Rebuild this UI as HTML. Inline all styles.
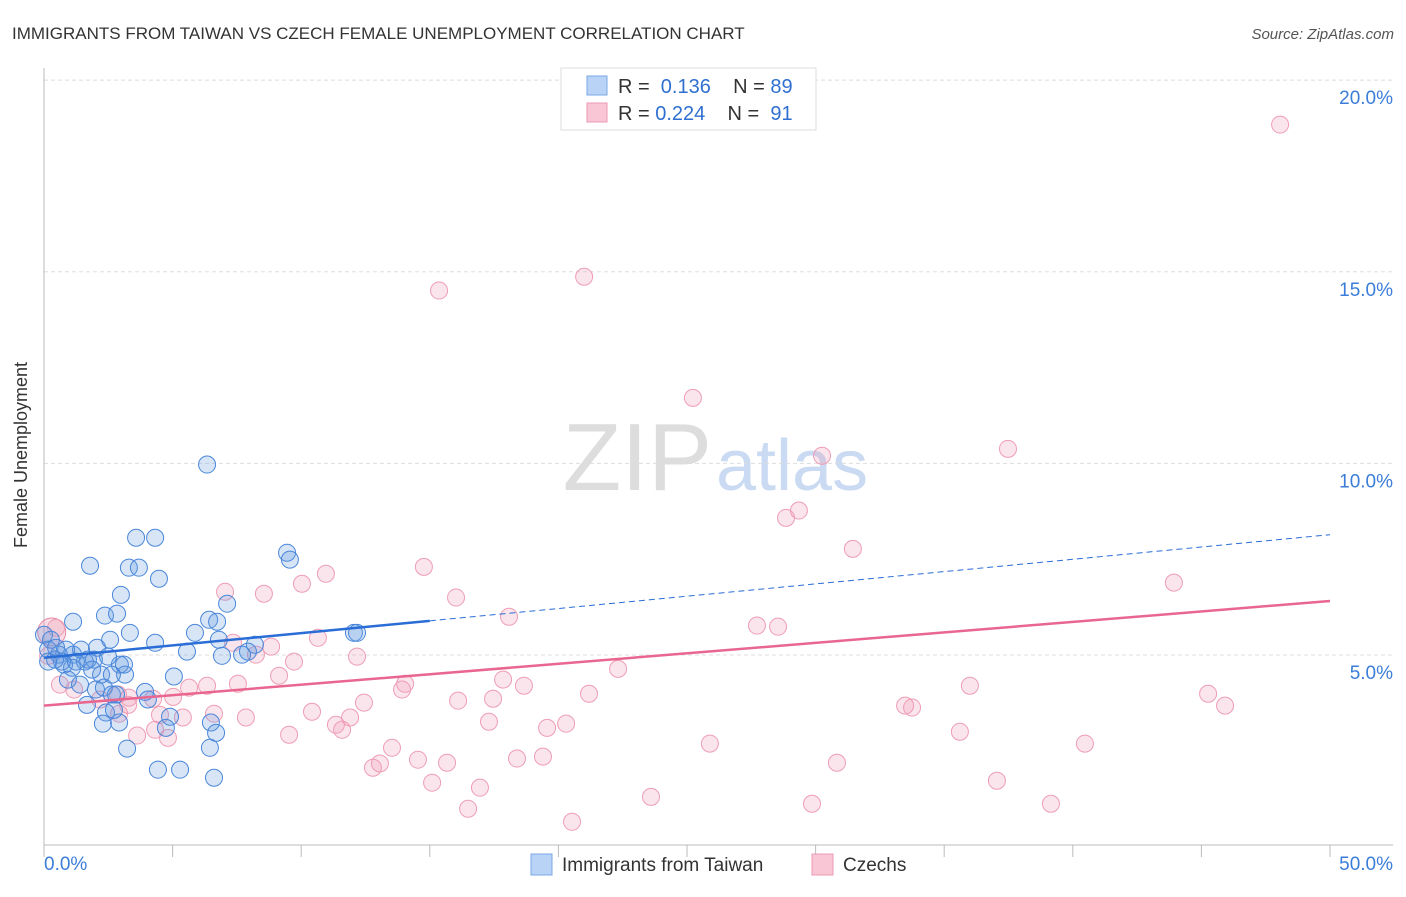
<!DOCTYPE html>
<html><head><meta charset="utf-8"><style>
body{margin:0;background:#fff;font-family:"Liberation Sans",sans-serif}
svg text{font-family:"Liberation Sans",sans-serif}
</style></head><body>
<svg width="1406" height="892" xmlns="http://www.w3.org/2000/svg">
<text x="12" y="39" font-size="17" fill="#333">IMMIGRANTS FROM TAIWAN VS CZECH FEMALE UNEMPLOYMENT CORRELATION CHART</text>
<text x="1394" y="39" font-size="15" fill="#555" font-style="italic" text-anchor="end">Source: ZipAtlas.com</text>
<text x="712" y="490" font-size="96" fill="#ddd" font-family="Liberation Serif" text-anchor="end">ZIP</text>
<text x="716" y="490" font-size="72" fill="#c9daf2">atlas</text>
<g id="grid"></g>
<g id="axes"></g>
<g id="pts"></g>
<g id="trends"></g>
<text x="27" y="455" font-size="18" fill="#333" text-anchor="middle" transform="rotate(-90 27 455)">Female Unemployment</text>
<g>
<rect x="561" y="68" width="255" height="62" fill="#fff" stroke="#ddd"/>
<rect x="587" y="76" width="20" height="19" fill="#b8d3f5" stroke="#7aa7e6"/>
<rect x="587" y="103" width="20" height="19" fill="#f9c6d5" stroke="#ec9ab2"/>
<text x="618" y="93" font-size="20" fill="#333" xml:space="preserve">R =  <tspan fill="#2f6fd0">0.136</tspan>    N = <tspan fill="#2f6fd0">89</tspan></text>
<text x="618" y="120" font-size="20" fill="#333" xml:space="preserve">R = <tspan fill="#2f6fd0">0.224</tspan>    N =  <tspan fill="#2f6fd0">91</tspan></text>
</g>
<g>
<rect x="531" y="854" width="21" height="21" fill="#b8d3f5" stroke="#7aa7e6"/>
<text x="562" y="871" font-size="19" fill="#333">Immigrants from Taiwan</text>
<rect x="812" y="854" width="21" height="21" fill="#f9c6d5" stroke="#ec9ab2"/>
<text x="843" y="871" font-size="19" fill="#333">Czechs</text>
</g>
</svg>
<script>
const blueX=[6.34,3.58,4.32,1.79,3.30,3.69,4.47,9.45,9.56,2.99,2.37,2.84,7.12,6.42,6.73,1.13,5.87,3.34,4.32,2.57,6.80,12.05,12.17,0,0.27,8.20,7.93,7.70,5.56,6.92,0.58,1.13,1.44,2.06,1.71,0.78,1.09,1.94,2.95,2.49,3.15,2.22,2.64,3.11,5.05,0.93,1.40,2.02,2.33,3.93,4.04,1.67,2.64,2.41,4.90,4.74,6.49,6.69,2.29,2.92,3.23,6.45,4.43,5.29,6.61,0.16,0.43,0.70,0.16,0.47,1.59,1.24,0.86,1.87,2.72,2.80];
const blueY=[9.97,8.06,8.06,7.33,7.28,7.28,6.99,7.67,7.49,6.57,6.03,6.08,6.34,5.92,5.87,5.87,5.58,5.58,5.32,5.40,5.40,5.58,5.58,5.53,5.40,5.27,5.09,5.01,5.09,4.98,5.01,5.01,5.14,5.19,4.88,4.75,4.67,4.88,4.75,4.96,4.49,4.49,4.49,4.75,4.44,4.36,4.23,4.10,4.15,4.04,3.84,3.70,3.97,3.50,3.39,3.10,3.24,2.97,3.21,3.24,2.56,2.58,2.01,2.01,1.80,5.14,4.88,4.83,4.83,5.19,4.83,4.83,5.14,4.62,3.57,3.97];
const pinkX=[48.06,21.0,15.36,25.23,30.25,37.48,29.35,28.85,31.45,14.77,10.96,7.04,10.03,8.55,16.02,18.08,43.93,27.72,28.54,10.65,7.35,8.83,8.24,12.17,9.72,22.32,9.14,17.85,14.04,13.92,18.66,7.54,6.34,5.64,5.02,4.24,3.30,2.88,36.0,45.26,45.92,33.48,33.75,21.19,16.10,17.46,12.44,10.42,11.90,11.35,11.59,17.30,19.56,20.30,7.85,6.61,5.40,4.51,2.92,9.53,35.61,40.47,25.89,13.53,19.40,18.39,14.54,15.67,13.06,12.79,30.83,37.05,15.09,16.95,16.49,23.60,29.86,39.15,20.53,3.62,4.32,4.82,0.47,0.16,0.62,1.17,2.18,3.27];
const pinkY=[18.84,14.87,14.51,11.71,10.2,10.38,8.77,8.58,7.77,7.30,7.12,6.65,6.86,6.60,6.50,6.00,6.89,5.77,5.74,5.45,5.32,5.22,5.01,4.96,4.83,4.64,4.46,4.36,4.25,4.10,4.20,4.25,4.20,4.15,3.91,3.86,3.89,3.97,4.20,3.99,3.68,3.68,3.63,3.99,3.81,3.86,3.76,3.52,3.37,3.18,3.05,3.26,3.10,3.21,3.37,3.47,3.37,3.44,3.47,2.92,3.00,2.69,2.69,2.58,2.35,2.30,2.27,2.19,2.17,2.06,2.19,1.72,1.67,1.54,0.99,1.30,1.12,1.12,0.65,2.90,3.05,2.84,5.71,4.98,4.23,4.10,3.84,3.70];
const blueTrend=[4.93,8.14]; const blueSolidEnd=15;
const pinkTrend=[3.68,6.41];
const yTicks=[5,10,15,20]; const yTickLabels=["5.0%","10.0%","15.0%","20.0%"];
const xTicks=[0,5,10,15,20,25,30,35,40,45,50];
const NS="http://www.w3.org/2000/svg";
const sx=v=>44+v*25.72, sy=v=>846.7-v*38.33;
function mk(p,t,a){const e=document.createElementNS(NS,t);for(const k in a)e.setAttribute(k,a[k]);p.appendChild(e);return e;}
const grid=document.getElementById('grid'),axes=document.getElementById('axes'),pts=document.getElementById('pts'),tr=document.getElementById('trends');
yTicks.forEach((v,i)=>{const l=mk(grid,'line',{x1:44,x2:1393,y1:sy(v),y2:sy(v),stroke:'#ddd','stroke-dasharray':'4,3'});


const t=mk(axes,'text',{x:1393,y:sy(v)+24,'font-size':19,fill:'#3b7dd8','text-anchor':'end'});t.textContent=yTickLabels[i];

});
mk(axes,'line',{x1:44,x2:44,y1:68,y2:845,stroke:'#bbb'});
mk(axes,'line',{x1:44,x2:1393,y1:845,y2:845,stroke:'#bbb'});
xTicks.forEach(v=>{const l=mk(axes,'line',{x1:sx(v),x2:sx(v),y1:845,y2:857,stroke:'#bbb'});

});
[[0,"0.0%","start",44],[50,"50.0%","end",1393]].forEach(d=>{const t=mk(axes,'text',{x:d[3],y:870,'font-size':19,fill:'#3b7dd8','text-anchor':d[2]});t.textContent=d[1];

});
const big=mk(pts,'circle',{cx:sx(0.3),cy:sy(5.6),r:14,fill:'rgba(235,140,170,0.3)',stroke:'#e88aa6'});


pinkX.forEach((x,i)=>{const c=mk(pts,'circle',{cx:sx(x),cy:sy(pinkY[i]),r:8.5,fill:'rgba(240,150,178,0.25)',stroke:'#ee9db5','stroke-width':1});

});
blueX.forEach((x,i)=>{const c=mk(pts,'circle',{cx:sx(x),cy:sy(blueY[i]),r:8.5,fill:'rgba(95,150,225,0.25)',stroke:'#4a87da','stroke-width':1});

});
const by=x=>blueTrend[0]+(blueTrend[1]-blueTrend[0])*x/50;
let l=mk(tr,'line',{x1:sx(0),y1:sy(by(0)),x2:sx(blueSolidEnd),y2:sy(by(blueSolidEnd)),stroke:'#2a6dd6','stroke-width':2.5});


l=mk(tr,'line',{x1:sx(blueSolidEnd),y1:sy(by(blueSolidEnd)),x2:sx(50),y2:sy(by(50)),stroke:'#2a6dd6','stroke-width':1,'stroke-dasharray':'6,4'});


l=mk(tr,'line',{x1:sx(0),y1:sy(pinkTrend[0]),x2:sx(50),y2:sy(pinkTrend[1]),stroke:'#e8668f','stroke-width':2.5});


</script>
</body></html>
